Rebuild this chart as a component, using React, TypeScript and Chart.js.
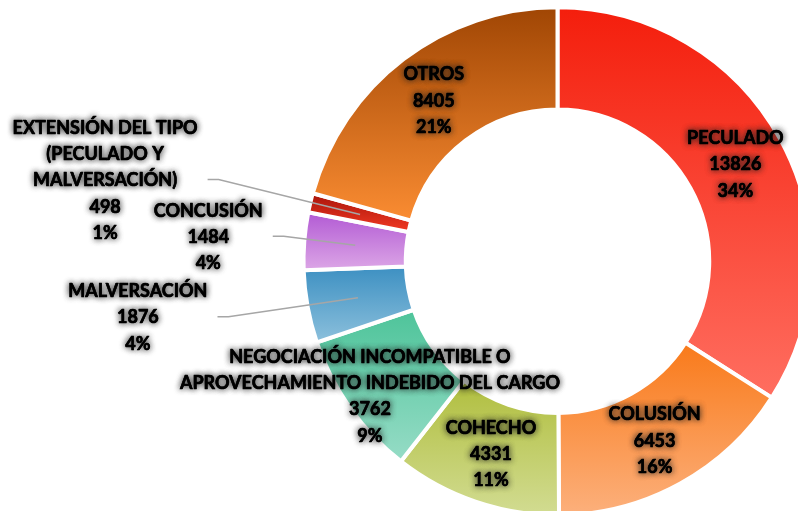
import React, { useEffect, useRef } from 'react';
import { Chart, ArcElement, DoughnutController } from 'chart.js';

Chart.register(ArcElement, DoughnutController);

// ---- data ----
const categories = [
  'PECULADO',
  'COLUSIÓN',
  'COHECHO',
  'NEGOCIACIÓN INCOMPATIBLE O\nAPROVECHAMIENTO INDEBIDO DEL CARGO',
  'MALVERSACIÓN',
  'CONCUSIÓN',
  'EXTENSIÓN DEL TIPO\n(PECULADO Y\nMALVERSACIÓN)',
  'OTROS',
];
const values = [13826, 6453, 4331, 3762, 1876, 1484, 498, 8405];
const percentLabels = ['34%', '16%', '11%', '9%', '4%', '4%', '1%', '21%'];

// ---- styles ----
const topColors = ['#F41E0C', '#F97A1A', '#B0BE3E', '#4EC49A', '#3D90C2', '#B25AD4', '#A8140A', '#A04604'];
const bottomColors = ['#FF6E60', '#FCB07C', '#D2DC92', '#96DCC6', '#8CC0DC', '#DCA6E6', '#F23A24', '#FA8C32'];
// label centre offset from the slice centroid
const labelOffsets: [number, number][] = [
  [0, 1], [-1, 2], [-1, 1], [-22, 18], [-220, 20], [-147, -8], [-255, -34], [-1, 1],
];
const hasLeader = [false, false, false, false, true, true, true, false];

const OUTER_R = 254;
const CUTOUT = 0.5974;
const FONT = 'bold 18px Lato';
const LINE_H = 26.3;

function sliceGeom(i: number) {
  const total = values.reduce((a, b) => a + b, 0);
  let cum = 0;
  for (let k = 0; k < i; k++) cum += values[k];
  const s = -Math.PI / 2 + (2 * Math.PI * cum) / total;
  const e = -Math.PI / 2 + (2 * Math.PI * (cum + values[i])) / total;
  return { s, e };
}

function gradientFor(ctx: any) {
  const chart = ctx.chart;
  const i = ctx.dataIndex;
  const ca = chart.chartArea;
  if (!ca || i === undefined) return topColors[i ?? 0];
  const cy = (ca.top + ca.bottom) / 2;
  const { s, e } = sliceGeom(i);
  let minY = Infinity;
  let maxY = -Infinity;
  const n = 60;
  for (let k = 0; k <= n; k++) {
    const a = s + ((e - s) * k) / n;
    for (const r of [OUTER_R, OUTER_R * CUTOUT]) {
      const y = cy + Math.sin(a) * r;
      if (y < minY) minY = y;
      if (y > maxY) maxY = y;
    }
  }
  const g = chart.ctx.createLinearGradient(0, minY, 0, maxY);
  g.addColorStop(0, topColors[i]);
  g.addColorStop(1, bottomColors[i]);
  return g;
}

const labelPlugin = {
  id: 'sliceLabels',
  afterDatasetsDraw(chart: any) {
    const ctx = chart.ctx;
    const meta = chart.getDatasetMeta(0);
    ctx.save();
    ctx.font = FONT;
    ctx.textAlign = 'center';
    ctx.textBaseline = 'middle';
    meta.data.forEach((arc: any, i: number) => {
      const p = arc.getProps(['x', 'y', 'startAngle', 'endAngle', 'innerRadius', 'outerRadius'], true);
      const mid = (p.startAngle + p.endAngle) / 2;
      const rm = (p.innerRadius + p.outerRadius) / 2;
      const cx = p.x + Math.cos(mid) * rm;
      const cy = p.y + Math.sin(mid) * rm;
      const lines = [...categories[i].split('\n'), String(values[i]), percentLabels[i]];
      const lx = cx + labelOffsets[i][0];
      const ly = cy + labelOffsets[i][1];
      const top = ly - ((lines.length - 1) * LINE_H) / 2;
      if (hasLeader[i]) {
        let w = 0;
        lines.forEach((t) => (w = Math.max(w, ctx.measureText(t).width)));
        const sx = lx + w / 2 + 10;
        const sy = ly - 1;
        ctx.save();
        ctx.strokeStyle = '#A6A6A6';
        ctx.lineWidth = 1.5;
        ctx.beginPath();
        ctx.moveTo(sx, sy);
        ctx.lineTo(sx + 11, sy);
        ctx.lineTo(cx, cy);
        ctx.stroke();
        ctx.restore();
      }
      lines.forEach((t, k) => {
        const y = top + k * LINE_H;
        ctx.save();
        ctx.shadowColor = 'rgba(30,30,30,0.8)';
        ctx.shadowBlur = 6;
        ctx.fillStyle = '#000';
        ctx.strokeStyle = '#000';
        ctx.lineWidth = 0.6;
        ctx.lineJoin = 'round';
        ctx.fillText(t, lx, y);
        ctx.fillText(t, lx, y);
        ctx.shadowColor = 'transparent';
        ctx.strokeText(t, lx, y);
        ctx.restore();
      });
    });
    ctx.restore();
  },
};

export default function App() {
  const ref = useRef<HTMLCanvasElement>(null);
  useEffect(() => {
    const chart = new Chart(ref.current as HTMLCanvasElement, {
      type: 'doughnut',
      data: {
        labels: categories,
        datasets: [
          {
            data: values,
            backgroundColor: gradientFor as any,
            borderColor: '#FFFFFF',
            borderWidth: 4,
            clip: false as any,
          },
        ],
      },
      options: {
        responsive: false,
        devicePixelRatio: 1,
        animation: false,
        radius: OUTER_R,
        cutout: `${CUTOUT * 100}%`,
        layout: { padding: { left: 317, top: 11.5, right: 0, bottom: 0 } },
        plugins: { legend: { display: false }, tooltip: { enabled: false } },
        events: [],
      } as any,
      plugins: [labelPlugin],
    });
    return () => chart.destroy();
  }, []);
  return (
    <div style={{ position: 'fixed', left: 0, top: 0, width: 798, height: 511, background: '#fff' }}>
      <canvas ref={ref} width={798} height={511} style={{ display: 'block', width: 798, height: 511 }} />
    </div>
  );
}
